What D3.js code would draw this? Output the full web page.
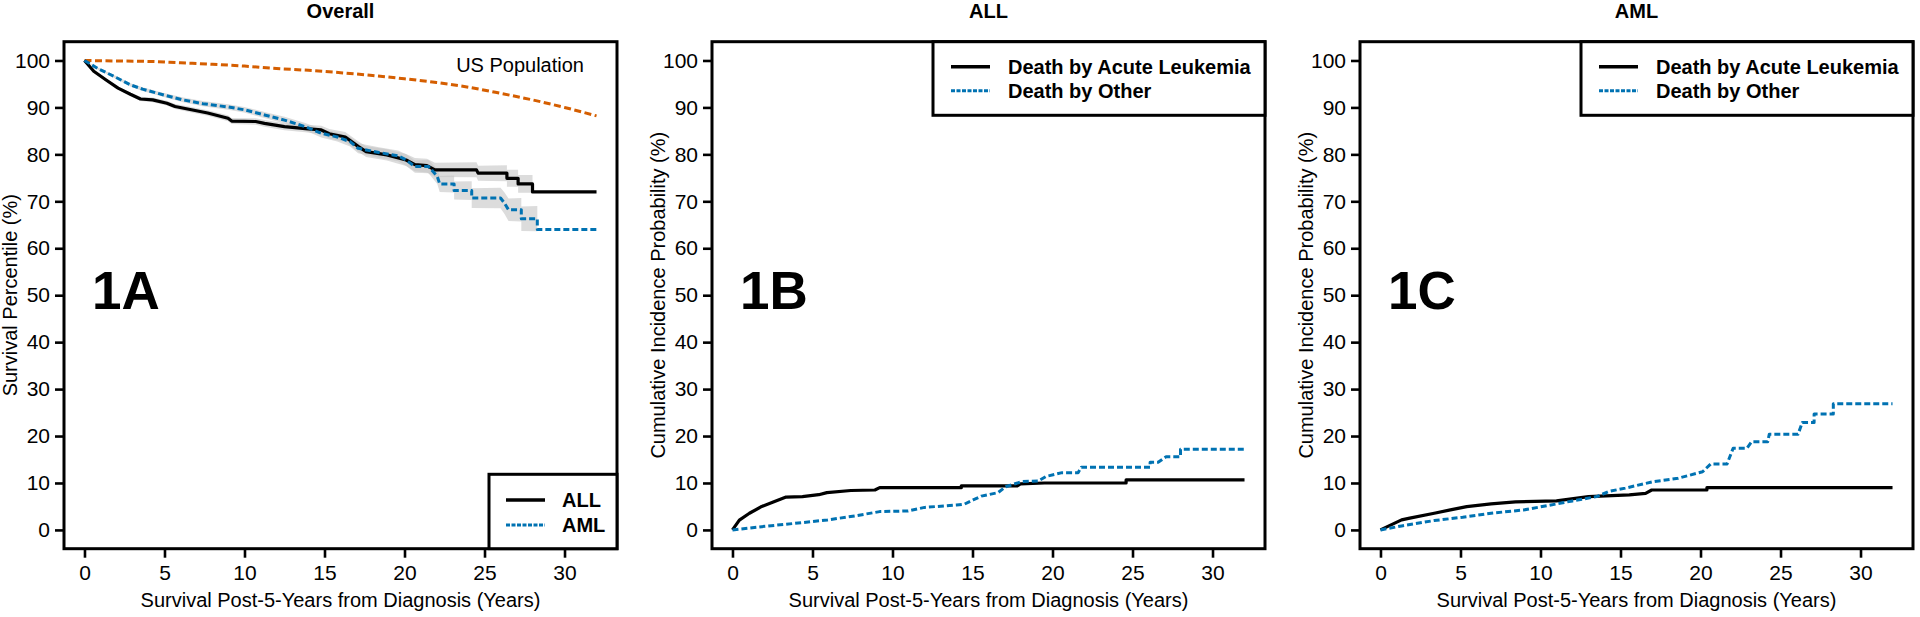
<!DOCTYPE html>
<html><head><meta charset="utf-8">
<script src="https://cdn.jsdelivr.net/npm/d3@7"></script>
<style>
body{margin:0;background:#fff;}
svg{display:block;}
text{font-family:"Liberation Sans",Arial,Helvetica,sans-serif;fill:#000;}
</style>
</head><body>
<svg id="chart" width="1920" height="617"></svg>
<script>
// ---------- DATA ----------
const panelTitles = ["Overall", "ALL", "AML"];
const panelLetters = ["1A", "1B", "1C"];
const xTickValues = [0, 5, 10, 15, 20, 25, 30];
const yTickValues = [0, 10, 20, 30, 40, 50, 60, 70, 80, 90, 100];
const xAxisTitle = "Survival Post-5-Years from Diagnosis (Years)";
const yAxisTitles = ["Survival Percentile (%)", "Cumulative Incidence Probability (%)", "Cumulative Incidence Probability (%)"];
const legendA = ["ALL", "AML"];
const legendBC = ["Death by Acute Leukemia", "Death by Other"];
const popLabel = "US Population";

// Panel 1A: overall survival (%)
const allTime = [0,0.58,1.33,2.1,2.87,3.5,4.26,5.15,5.66,6.68,7.7,8.97,9.2,10.7,11.25,12.5,13.8,14.8,15.3,16.3,17.1,17.6,18.9,20.1,20.65,21.4,21.9,24.5,24.6,26.4,26.4,27.1,27.1,28.0,28.0,32];
const allSurv = [100,97.7,95.9,94.1,92.8,91.8,91.6,90.9,90.2,89.5,88.8,87.7,87.1,87.0,86.6,85.9,85.5,85.2,84.4,83.7,81.7,80.6,79.9,78.8,77.8,77.6,76.7,76.7,76.0,76.0,74.9,74.9,73.7,73.7,72.0,72.0];
const allCIHalf = [0,0.2,0.3,0.35,0.4,0.45,0.5,0.5,0.55,0.6,0.6,0.65,0.65,0.7,0.7,0.75,0.8,0.9,1.0,1.05,1.1,1.15,1.2,1.3,1.4,1.45,1.5,1.6,1.6,1.7,1.8,1.8,1.9,1.9,2.0,2.0];

const amlTime = [0,0.83,1.85,2.87,3.63,4.9,6.17,7.4,8.97,9.98,11.25,12.5,13.8,14.8,15.8,16.6,17.1,18.4,19.6,20.1,20.65,21.5,22.05,22.2,23.1,23.1,24.2,24.2,26.0,26.25,26.5,27.3,27.3,28.3,28.3,32];
const amlSurv = [100,98.3,96.6,94.8,93.9,92.7,91.6,90.8,90.1,89.5,88.4,87.3,85.9,84.5,83.7,82.7,81.3,80.4,79.7,78.8,77.4,77.4,75.3,73.7,73.7,72.3,72.3,70.7,70.7,69.6,68.2,68.2,66.3,66.3,64.0,64.0];
const amlCIHalf = [0,0.2,0.3,0.35,0.4,0.45,0.5,0.55,0.6,0.6,0.65,0.7,0.8,0.9,0.95,1.0,1.05,1.1,1.15,1.2,1.3,1.4,1.6,1.7,1.8,1.9,2.0,2.1,2.2,2.3,2.4,2.5,2.6,2.7,2.8,2.8];

const popYears = [0,2,4,6,8,10,12,14,16,18,20,22,24,26,28,30,32];
const popSurv = [100,99.9,99.8,99.5,99.2,98.8,98.3,97.9,97.4,96.8,96.1,95.3,94.3,93.0,91.6,90.0,88.2];

// Panel 1B: ALL cumulative incidence (%)
const bLeukTime = [0,0.43,1.06,1.83,2.59,3.35,4.37,5.39,5.9,7.4,8.9,9.2,14.3,14.3,17.8,18.0,19.5,24.6,24.6,32];
const bLeukCI   = [0,2.1,3.55,5.0,6.0,7.0,7.1,7.5,7.95,8.4,8.5,9.0,9.0,9.4,9.4,9.8,10.0,10.0,10.65,10.65];
const bOtherTime = [0,1.83,4.37,5.94,7.67,9.2,10.98,12.0,14.0,14.5,15.04,15.55,16.6,17.07,18.1,19.1,19.6,20.6,21.6,21.8,26.1,26.1,26.6,27.1,28.0,28.0,32];
const bOtherCI   = [0,0.7,1.56,2.13,3.0,3.9,4.05,4.8,5.3,5.5,6.4,7.2,7.95,9.2,10.3,10.4,11.4,12.2,12.2,13.35,13.35,14.4,14.4,15.6,15.6,17.2,17.2];

// Panel 1C: AML cumulative incidence (%)
const cLeukTime = [0,1.32,1.83,3.36,4.37,5.39,6.91,8.44,11.0,13.0,15.55,16.57,16.95,20.4,20.4,32];
const cLeukCI   = [0,2.13,2.5,3.55,4.26,4.97,5.54,5.97,6.18,7.1,7.46,7.8,8.5,8.5,9.0,9.0];
const cOtherTime = [0,1.32,3.36,5.14,6.91,8.95,10.47,12.0,13.52,14.28,15.3,17.08,18.6,20.13,20.64,21.66,22.04,22.9,23.2,24.2,24.3,26.1,26.36,27.1,27.1,28.3,28.3,32];
const cOtherCI   = [0,0.85,2.0,2.7,3.55,4.26,5.2,6.18,7.1,8.2,8.9,10.3,11.0,12.4,14.06,14.06,17.4,17.4,18.8,18.8,20.4,20.4,22.9,22.9,24.7,24.7,26.9,26.9];

// ---------- STYLE / LAYOUT ----------
const BLACK = "#000000", BLUE = "#0072B2", ORANGE = "#D55E00";
const panelLeft = [64, 712, 1360];
const plotW = 553, plotTop = 41.7, plotBottom = 548.7;
const FS = 20;

const svg = d3.select("#chart");
const zip = (xs, ys) => xs.map((x, i) => [x, ys[i]]);

function drawPanel(p) {
  const L = panelLeft[p];
  const x = d3.scaleLinear().domain([-1.28, 33.28]).range([L, L + plotW]);
  const y = d3.scaleLinear().domain([-4, 104]).range([plotBottom, plotTop]);
  const g = svg.append("g");
  const line = d3.line().x(d => x(d[0])).y(d => y(d[1]));

  // CI bands (panel A)
  if (p === 0) {
    const bands = [[allTime, allSurv, allCIHalf], [amlTime, amlSurv, amlCIHalf]];
    bands.forEach(([t, s, h]) => {
      const pts = t.map((v, i) => ({t: v, lo: s[i] - h[i], hi: s[i] + h[i]})).slice(0, -1);
      g.append("path").datum(pts)
        .attr("d", d3.area().x(d => x(d.t)).y0(d => y(d.lo)).y1(d => y(d.hi)))
        .attr("fill", "#c4c4c4").attr("fill-opacity", 0.6);
    });
  }

  // curves
  const series = [];
  if (p === 0) {
    series.push({pts: zip(popYears, popSurv), color: ORANGE, dash: "7,3.5", w: 3, curve: d3.curveMonotoneX});
    series.push({pts: zip(allTime, allSurv), color: BLACK, dash: null, w: 3.2});
    series.push({pts: zip(amlTime, amlSurv), color: BLUE, dash: "6,3", w: 3});
  } else if (p === 1) {
    series.push({pts: zip(bLeukTime, bLeukCI), color: BLACK, dash: null, w: 3.2});
    series.push({pts: zip(bOtherTime, bOtherCI), color: BLUE, dash: "6,3", w: 3});
  } else {
    series.push({pts: zip(cLeukTime, cLeukCI), color: BLACK, dash: null, w: 3.2});
    series.push({pts: zip(cOtherTime, cOtherCI), color: BLUE, dash: "6,3", w: 3});
  }
  series.forEach(s => {
    g.append("path").datum(s.pts)
      .attr("d", line.curve(s.curve || d3.curveLinear))
      .attr("fill", "none").attr("stroke", s.color).attr("stroke-width", s.w)
      .attr("stroke-dasharray", s.dash).attr("stroke-linejoin", "round");
  });

  // axes
  const xa = g.append("g").attr("transform", `translate(0,${plotBottom})`)
    .call(d3.axisBottom(x).tickValues(xTickValues).tickSize(9).tickPadding(7));
  const ya = g.append("g").attr("transform", `translate(${L},0)`)
    .call(d3.axisLeft(y).tickValues(yTickValues).tickSize(9).tickPadding(5));
  [xa, ya].forEach(a => {
    a.select(".domain").remove();
    a.selectAll("line").attr("stroke", "#000").attr("stroke-width", 2.6);
    a.selectAll("text").attr("font-size", 21).attr("fill", "#000")
      .attr("font-family", '"Liberation Sans",Arial,sans-serif');
  });

  // box
  g.append("rect").attr("x", L).attr("y", plotTop).attr("width", plotW).attr("height", plotBottom - plotTop)
    .attr("fill", "none").attr("stroke", "#000").attr("stroke-width", 3);

  // titles
  g.append("text").attr("x", L + plotW / 2).attr("y", 18).attr("text-anchor", "middle")
    .attr("font-size", FS).attr("font-weight", "bold").text(panelTitles[p]);
  g.append("text").attr("x", L + plotW / 2).attr("y", 607).attr("text-anchor", "middle")
    .attr("font-size", FS).text(xAxisTitle);
  g.append("text").attr("transform", `translate(${L - 47},${(plotTop + plotBottom) / 2}) rotate(-90)`)
    .attr("text-anchor", "middle").attr("font-size", FS).text(yAxisTitles[p]);

  // panel letter
  g.append("text").attr("x", L + 28).attr("y", 309).attr("font-size", 53).attr("font-weight", "bold")
    .text(panelLetters[p]);

  // legends
  if (p === 0) {
    const lx = L + plotW - 128, ly = 474.3;
    g.append("rect").attr("x", lx).attr("y", ly).attr("width", L + plotW - lx).attr("height", plotBottom - ly)
      .attr("fill", "#fff").attr("stroke", "#000").attr("stroke-width", 3);
    [[BLACK, null, 3.5], [BLUE, "4,1.5", 3]].forEach((st, i) => {
      const yy = 500 + i * 25;
      g.append("line").attr("x1", lx + 17).attr("x2", lx + 56).attr("y1", yy).attr("y2", yy)
        .attr("stroke", st[0]).attr("stroke-width", st[2]).attr("stroke-dasharray", st[1]);
      g.append("text").attr("x", lx + 73).attr("y", yy).attr("dy", "0.36em")
        .attr("font-size", FS).attr("font-weight", "bold").text(legendA[i]);
    });
    g.append("text").attr("x", L + plotW - 33).attr("y", 72).attr("text-anchor", "end")
      .attr("font-size", FS).text(popLabel);
  } else {
    const lx = L + 221, ly = plotTop;
    g.append("rect").attr("x", lx).attr("y", ly).attr("width", L + plotW - lx).attr("height", 115.3 - ly)
      .attr("fill", "#fff").attr("stroke", "#000").attr("stroke-width", 3);
    [[BLACK, null, 3.5], [BLUE, "4,1.5", 3]].forEach((st, i) => {
      const yy = 66.7 + i * 24;
      g.append("line").attr("x1", lx + 18).attr("x2", lx + 57).attr("y1", yy).attr("y2", yy)
        .attr("stroke", st[0]).attr("stroke-width", st[2]).attr("stroke-dasharray", st[1]);
      g.append("text").attr("x", lx + 75).attr("y", yy).attr("dy", "0.36em")
        .attr("font-size", FS).attr("font-weight", "bold").text(legendBC[i]);
    });
  }
}

[0, 1, 2].forEach(drawPanel);
</script>
</body></html>
